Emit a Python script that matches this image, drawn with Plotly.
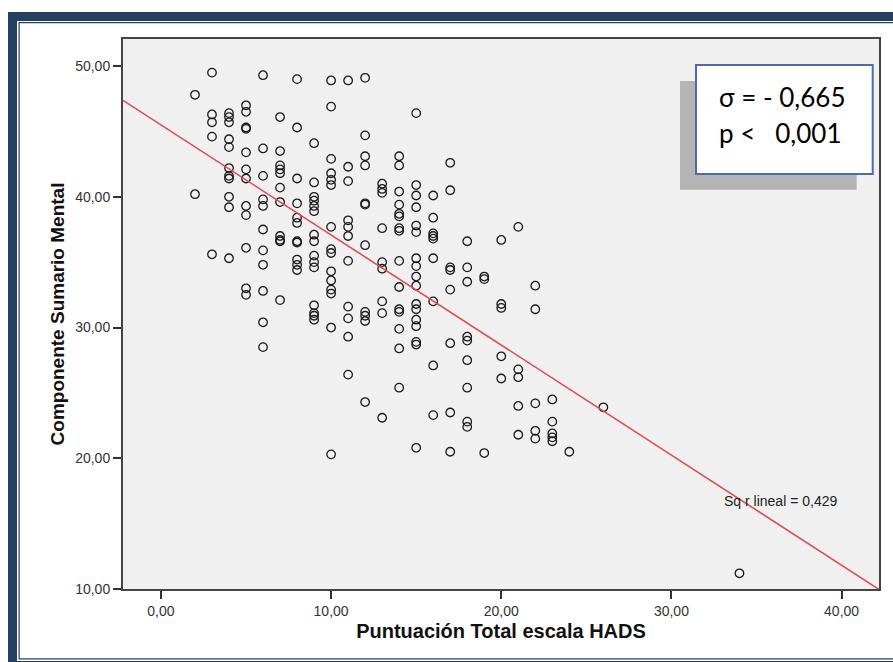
import plotly.graph_objects as go

# ---------------- data ----------------
hads_total = [
    2, 2,
    3, 3, 3, 3, 3,
    4, 4, 4, 4, 4, 4, 4, 4, 4, 4, 4,
    5, 5, 5, 5, 5, 5, 5, 5, 5, 5, 5, 5,
    6, 6, 6, 6, 6, 6, 6, 6, 6, 6, 6,
    7, 7, 7, 7, 7, 7, 7, 7, 7, 7, 7,
    8, 8, 8, 8, 8, 8, 8, 8, 8, 8, 8,
    9, 9, 9, 9, 9, 9, 9, 9, 9, 9, 9, 9, 9, 9, 9,
    10, 10, 10, 10, 10, 10, 10, 10, 10, 10, 10, 10, 10, 10, 10,
    11, 11, 11, 11, 11, 11, 11, 11, 11, 11, 11,
    12, 12, 12, 12, 12, 12, 12, 12, 12, 12, 12,
    13, 13, 13, 13, 13, 13, 13, 13, 13,
    14, 14, 14, 14, 14, 14, 14, 14, 14, 14, 14, 14, 14, 14, 14,
    15, 15, 15, 15, 15, 15, 15, 15, 15, 15, 15, 15, 15, 15, 15, 15, 15,
    16, 16, 16, 16, 16, 16, 16, 16, 16,
    17, 17, 17, 17, 17, 17, 17, 17,
    18, 18, 18, 18, 18, 18, 18, 18, 18,
    19, 19, 19,
    20, 20, 20, 20, 20,
    21, 21, 21, 21, 21,
    22, 22, 22, 22, 22,
    23, 23, 23, 23, 23,
    24,
    26,
    34,
]

componente_mental = [
    47.8, 40.2,
    49.5, 46.3, 45.7, 44.6, 35.6,
    46.4, 46.1, 45.7, 44.4, 43.8, 42.2, 41.6, 41.4, 40.0, 39.2, 35.3,
    47.0, 46.5, 45.3, 45.2, 43.4, 42.1, 41.4, 39.3, 38.6, 36.1, 33.0, 32.5,
    49.3, 43.7, 41.6, 39.8, 39.3, 37.5, 35.9, 34.8, 32.8, 30.4, 28.5,
    46.1, 43.5, 42.4, 42.1, 41.8, 40.7, 39.6, 37.0, 36.7, 36.6, 32.1,
    49.0, 45.3, 41.4, 39.5, 38.4, 38.0, 36.6, 36.5, 35.2, 34.8, 34.4,
    44.1, 41.1, 40.0, 39.7, 39.3, 38.9, 37.1, 36.6, 35.5, 35.0, 34.6, 31.7, 31.1, 30.9, 30.6,
    48.9, 46.9, 42.9, 41.8, 41.3, 40.9, 37.7, 36.0, 35.7, 34.3, 33.6, 32.9, 32.6, 30.0, 20.3,
    48.9, 42.3, 41.2, 38.2, 37.7, 37.0, 35.1, 31.6, 30.7, 29.3, 26.4,
    49.1, 44.7, 43.1, 42.4, 39.5, 39.4, 36.3, 31.2, 30.9, 30.5, 24.3,
    41.0, 40.6, 40.3, 37.6, 35.0, 34.5, 32.0, 31.1, 23.1,
    43.1, 42.4, 40.4, 39.4, 38.7, 38.5, 37.6, 37.4, 35.1, 33.1, 31.4, 31.2, 29.9, 28.4, 25.4,
    46.4, 40.9, 40.1, 39.2, 37.8, 37.3, 35.3, 34.7, 33.9, 33.2, 31.8, 31.4, 30.6, 30.1, 28.9, 28.7, 20.8,
    40.1, 38.4, 37.2, 37.0, 36.8, 35.3, 32.0, 27.1, 23.3,
    42.6, 40.5, 34.6, 34.4, 32.9, 28.8, 23.5, 20.5,
    36.6, 34.6, 33.5, 29.3, 29.0, 27.5, 25.4, 22.8, 22.4,
    33.9, 33.7, 20.4,
    36.7, 31.8, 31.5, 27.8, 26.1,
    37.7, 26.8, 26.2, 24.0, 21.8,
    33.2, 31.4, 24.2, 22.1, 21.5,
    24.5, 22.8, 21.9, 21.6, 21.3,
    20.5,
    23.9,
    11.2,
]

# fitted linear regression line (as drawn in the reference)
line_intercept = 45.5
line_slope = -0.842

x_tickvals = [0, 10, 20, 30, 40]
x_ticktext = ["0,00", "10,00", "20,00", "30,00", "40,00"]
y_tickvals = [10, 20, 30, 40, 50]
y_ticktext = ["10,00", "20,00", "30,00", "40,00", "50,00"]

x_title = "Puntuación Total escala HADS"
y_title = "Componente Sumario Mental"
stats_line1 = "σ = - 0,665"
stats_line2 = "p <\u00a0\u00a0\u00a00,001"
fit_label = "Sq r lineal = 0,429"

# ---------------- layout geometry ----------------
W, H = 893, 662
ML, MR, MT, MB = 123, 14, 39, 73
PW, PH = W - ML - MR, H - MT - MB
X_RANGE = [-2.23, 42.2]
Y_RANGE = [10, 52.07]

NAVY = "#243F60"
ARIAL = "Liberation Sans, Arial, sans-serif"


def px_x(px):
    return (px - ML) / PW


def px_y(py):
    return (H - MB - py) / PH


def rect(x0, y0, x1, y1, fill, line_color=None, line_width=0, layer="below"):
    return dict(
        type="rect", xref="paper", yref="paper",
        x0=px_x(x0), x1=px_x(x1), y0=px_y(y1), y1=px_y(y0),
        fillcolor=fill, layer=layer,
        line=dict(color=line_color or fill, width=line_width),
    )


shapes = [
    # navy double frame
    rect(8, 12, 910, 680, NAVY),
    rect(17, 21, 910, 661, "white"),
    rect(18.5, 22, 910, 659.5, NAVY),
    rect(19.7, 23.2, 910, 658.3, "white"),
    # plot background
    rect(ML, MT, W - MR, H - MB, "#F0F0F0"),
    # stats box shadow and box
    rect(680, 81, 856.7, 189.7, "#B4B4B4"),
    rect(696, 65, 872.7, 174, "white", line_color="#4A6BA5", line_width=2),
]

fig = go.Figure()

fig.add_trace(go.Scatter(
    x=hads_total, y=componente_mental, mode="markers",
    marker=dict(symbol="circle-open", size=8.5, color="#1a1a1a",
                line=dict(width=1.3, color="#1a1a1a")),
    showlegend=False, hoverinfo="x+y",
))

fit_x = [X_RANGE[0], X_RANGE[1]]
fit_y = [line_intercept + line_slope * v for v in fit_x]
fig.add_trace(go.Scatter(
    x=fit_x, y=fit_y, mode="lines",
    line=dict(color="#DD4F52", width=1.6),
    showlegend=False, hoverinfo="skip",
))

annotations = [
    dict(text=fit_label, x=33.0, y=16.7, xref="x", yref="y",
         xanchor="left", yanchor="middle", showarrow=False,
         font=dict(family=ARIAL, size=14, color="#222222")),
    dict(text=stats_line1, x=px_x(717), y=px_y(96.7), xref="paper", yref="paper",
         xanchor="left", yanchor="middle", showarrow=False,
         font=dict(family="Lato, Noto Sans, sans-serif", size=26, color="black")),
    dict(text=stats_line2, x=px_x(717), y=px_y(132.7), xref="paper", yref="paper",
         xanchor="left", yanchor="middle", showarrow=False,
         font=dict(family="Lato, Noto Sans, sans-serif", size=26, color="black")),
]

fig.update_layout(
    width=W, height=H,
    margin=dict(l=ML, r=MR, t=MT, b=MB, pad=0, autoexpand=False),
    paper_bgcolor="white",
    plot_bgcolor="rgba(0,0,0,0)",
    shapes=shapes,
    annotations=annotations,
    showlegend=False,
    xaxis=dict(
        range=X_RANGE, tickvals=x_tickvals, ticktext=x_ticktext,
        showgrid=False, zeroline=False, automargin=False,
        showline=True, mirror=True, linecolor="#444444", linewidth=2,
        ticks="outside", ticklen=8, tickwidth=2, tickcolor="#333333",
        tickfont=dict(family=ARIAL, size=14, color="#333333"),
        title=dict(text=x_title, standoff=6,
                   font=dict(family=ARIAL, size=20, color="#111111", weight="bold")),
    ),
    yaxis=dict(
        range=Y_RANGE, tickvals=y_tickvals, ticktext=y_ticktext,
        showgrid=False, zeroline=False, automargin=False,
        showline=True, mirror=True, linecolor="#444444", linewidth=2,
        ticks="outside", ticklen=8, tickwidth=2, tickcolor="#333333",
        tickfont=dict(family=ARIAL, size=14, color="#333333"),
        title=dict(text=y_title, standoff=6,
                   font=dict(family=ARIAL, size=19, color="#111111", weight="bold")),
    ),
)

fig.write_html(
    "out.html",
    config={"displayModeBar": False},
    post_script="document.body.style.margin='0';document.body.style.overflow='hidden';",
)
